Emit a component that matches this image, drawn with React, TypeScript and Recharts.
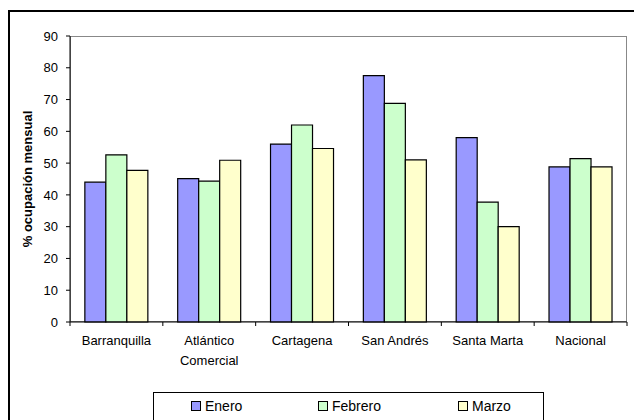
import React from "react";
import { BarChart, Bar, XAxis, YAxis } from "recharts";

const CATEGORIES = ["Barranquilla", "Atlántico\nComercial", "Cartagena", "San Andrés", "Santa Marta", "Nacional"];
const ENERO = [44, 45.1, 56, 77.5, 58, 48.8];
const FEBRERO = [52.6, 44.3, 62, 68.8, 37.7, 51.4];
const MARZO = [47.7, 50.9, 54.6, 51, 30, 48.8];
const Y_TICKS = [0, 10, 20, 30, 40, 50, 60, 70, 80, 90];
const SERIES = [
  { key: "enero", name: "Enero", color: "#9999FF" },
  { key: "febrero", name: "Febrero", color: "#CCFFCC" },
  { key: "marzo", name: "Marzo", color: "#FFFFCC" },
];
const Y_LABEL = "% ocupación mensual";

const data = CATEGORIES.map((c, i) => ({ cat: c, enero: ENERO[i], febrero: FEBRERO[i], marzo: MARZO[i] }));

const W = 634;
const H = 420;
const M = { top: 36, right: 7, bottom: 0, left: 8 };
const Y_W = 62;
const X_H = 98;
const PLOT_LEFT = M.left + Y_W;
const PLOT_W = W - PLOT_LEFT - M.right;
const BAND = PLOT_W / CATEGORIES.length;
const FONT = "'Liberation Sans', Arial, sans-serif";

const XTick = (props: any) => {
  const { x, y, payload, index } = props;
  const lines = String(payload.value).split("\n");
  return (
    <g>
      <line x1={x - BAND / 2} x2={x - BAND / 2} y1={y} y2={y + 4} stroke="#000" />
      {index === CATEGORIES.length - 1 && (
        <line x1={x + BAND / 2} x2={x + BAND / 2} y1={y} y2={y + 4} stroke="#000" />
      )}
      <text x={x} y={y + 23} textAnchor="middle" fontSize={13} fontFamily={FONT} fill="#000">
        {lines.map((l, i) => (
          <tspan key={i} x={x} dy={i === 0 ? 0 : 20}>
            {l}
          </tspan>
        ))}
      </text>
    </g>
  );
};

const YLabel = (props: any) => {
  const vb = props.viewBox || { x: 8, y: 36, width: 62, height: 286 };
  const cx = vb.x + 19;
  const cy = vb.y + vb.height / 2;
  return (
    <text
      x={cx}
      y={cy}
      transform={`rotate(-90 ${cx} ${cy})`}
      textAnchor="middle"
      dominantBaseline="central"
      fontSize={13}
      fontWeight="bold"
      fontFamily={FONT}
      fill="#000"
    >
      {Y_LABEL}
    </text>
  );
};

export default function App() {
  return (
    <div style={{ position: "absolute", left: 0, top: 0, width: W, height: H, overflow: "hidden", background: "#fff", fontFamily: FONT }}>
      <div style={{ position: "absolute", left: 8, top: 10, width: 700, height: 500, borderLeft: "2px solid #000", borderTop: "2px solid #000" }} />
      <div style={{ position: "absolute", left: PLOT_LEFT, top: M.top, width: PLOT_W, height: H - M.top - X_H, border: "1px solid #888", boxSizing: "border-box" }} />
      <div style={{ position: "absolute", left: 0, top: 0 }}>
        <BarChart width={W} height={H} data={data} margin={M} barCategoryGap="16%" barGap={0}>
          <XAxis
            dataKey="cat"
            height={X_H}
            tickSize={0}
            tickMargin={0}
            tick={<XTick />}
            interval={0}
            axisLine={{ stroke: "#000" }}
          />
          <YAxis
            width={Y_W}
            domain={[0, 90]}
            ticks={Y_TICKS}
            interval={0}
            tickSize={4}
            tickMargin={8}
            axisLine={{ stroke: "#000" }}
            tickLine={{ stroke: "#000" }}
            tick={{ fontSize: 13, fill: "#000", fontFamily: FONT }}
            label={{ value: Y_LABEL, content: <YLabel /> }}
          />
          {SERIES.map((s) => (
            <Bar key={s.key} dataKey={s.key} name={s.name} fill={s.color} stroke="#000" strokeWidth={1.2} isAnimationActive={false} />
          ))}
        </BarChart>
      </div>
      <div style={{ position: "absolute", left: 153, top: 392, width: 389, height: 40, border: "1px solid #000", background: "#fff" }}>
        {SERIES.map((s, i) => (
          <div key={s.key} style={{ position: "absolute", left: [37, 164, 304][i], top: 5, display: "flex", alignItems: "center", fontSize: 14, color: "#000" }}>
            <span style={{ display: "inline-block", width: 8, height: 8, background: s.color, border: "1px solid #000", marginRight: 4 }} />
            <span>{s.name}</span>
          </div>
        ))}
      </div>
    </div>
  );
}
